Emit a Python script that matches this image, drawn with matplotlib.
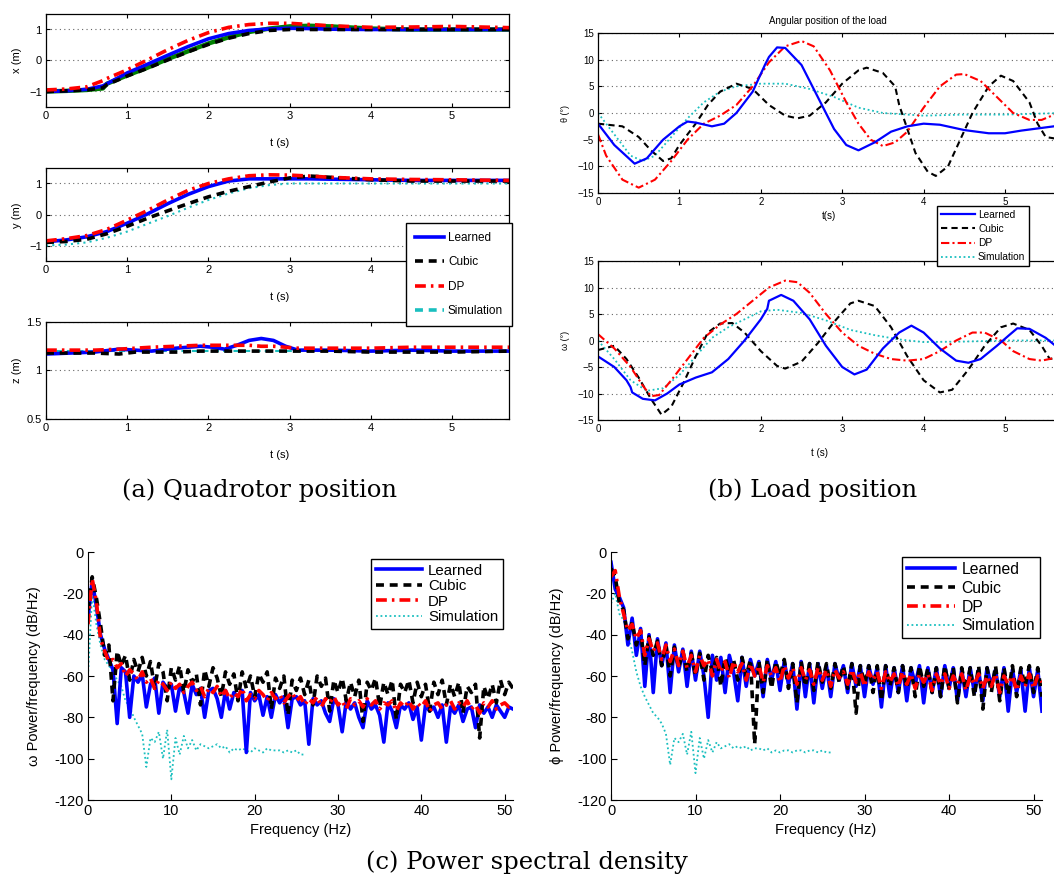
import numpy as np
import matplotlib.pyplot as plt

W, H = 1054, 880
plt.rcParams['font.family'] = ['Liberation Sans', 'DejaVu Sans']

# ---------------- quadrotor position (a)
X_T = [0, 0.25, 0.5, 0.7, 0.75, 1.0, 1.25, 1.5, 1.75, 2.0, 2.25, 2.5, 2.75, 3.0, 3.25, 3.5, 4.0, 4.5, 5.0, 5.7]
x_learned = [-1.0, -0.98, -0.93, -0.82, -0.75, -0.4, -0.12, 0.17, 0.45, 0.7, 0.87, 0.97, 1.02, 1.04, 1.03, 1.01, 1.0, 1.0, 1.0, 1.0]
x_dp = [-0.95, -0.92, -0.85, -0.65, -0.58, -0.3, 0.02, 0.35, 0.65, 0.9, 1.07, 1.16, 1.2, 1.2, 1.16, 1.12, 1.07, 1.08, 1.1, 1.06]
x_cubic = [-1.0, -0.98, -0.95, -0.88, -0.78, -0.5, -0.25, 0.02, 0.28, 0.52, 0.72, 0.87, 0.97, 1.0, 1.0, 1.0, 1.0, 1.0, 1.0, 1.0]
x_sim = [-1.0, -0.98, -0.95, -0.9, -0.75, -0.48, -0.23, 0.05, 0.3, 0.55, 0.75, 0.92, 1.03, 1.1, 1.12, 1.1, 1.03, 1.0, 1.0, 1.0]

Y_T = [0, 0.25, 0.5, 0.75, 1.0, 1.25, 1.5, 1.75, 2.0, 2.25, 2.5, 2.75, 3.0, 3.25, 3.5, 4.0, 4.5, 5.0, 5.7]
y_learned = [-0.88, -0.82, -0.72, -0.55, -0.28, 0.02, 0.35, 0.65, 0.9, 1.08, 1.15, 1.15, 1.15, 1.15, 1.14, 1.12, 1.1, 1.1, 1.1]
y_dp = [-0.85, -0.78, -0.68, -0.48, -0.18, 0.13, 0.47, 0.78, 1.0, 1.15, 1.25, 1.28, 1.27, 1.24, 1.2, 1.15, 1.13, 1.12, 1.1]
y_cubic = [-0.9, -0.87, -0.8, -0.62, -0.38, -0.12, 0.12, 0.35, 0.57, 0.75, 0.9, 1.05, 1.18, 1.24, 1.2, 1.12, 1.08, 1.08, 1.08]
y_sim = [-1.0, -0.97, -0.9, -0.75, -0.55, -0.3, -0.05, 0.22, 0.47, 0.68, 0.85, 0.95, 1.0, 1.0, 1.0, 1.0, 1.0, 1.0, 1.0]

Z_T = [0, 0.3, 0.6, 0.9, 1.1, 1.3, 1.6, 1.9, 2.05, 2.2, 2.35, 2.5, 2.65, 2.8, 2.95, 3.1, 3.5, 4.0, 4.5, 5.0, 5.7]
z_learned = [1.17, 1.18, 1.19, 1.22, 1.21, 1.2, 1.23, 1.25, 1.24, 1.22, 1.26, 1.31, 1.33, 1.31, 1.25, 1.21, 1.21, 1.2, 1.21, 1.2, 1.2]
z_dp = [1.21, 1.21, 1.21, 1.22, 1.23, 1.24, 1.25, 1.26, 1.26, 1.26, 1.26, 1.26, 1.25, 1.25, 1.24, 1.23, 1.23, 1.23, 1.24, 1.24, 1.24]
z_cubic = [1.18, 1.18, 1.18, 1.17, 1.19, 1.19, 1.19, 1.2, 1.2, 1.2, 1.2, 1.2, 1.2, 1.2, 1.2, 1.2, 1.2, 1.19, 1.19, 1.19, 1.2]
z_sim = [1.2] * len(Z_T)

# ---------------- load position (b)
th_learned_t = [0, 0.2, 0.45, 0.6, 0.8, 1.0, 1.1, 1.2, 1.4, 1.55, 1.7, 1.9, 2.05, 2.1, 2.2, 2.3, 2.5, 2.7, 2.9, 3.05, 3.2, 3.4, 3.6, 3.8, 4.0, 4.2, 4.5, 4.8, 5.0, 5.2, 5.7]
th_learned = [-2, -6, -9.5, -8.5, -5, -2.5, -1.6, -1.8, -2.5, -2, 0, 4, 9, 10.5, 12.3, 12.2, 9, 3, -3, -6, -7, -5.5, -3.5, -2.5, -2, -2.2, -3.2, -3.8, -3.8, -3.3, -2.3]
th_cubic_t = [0, 0.3, 0.5, 0.65, 0.8, 0.9, 1.0, 1.2, 1.35, 1.5, 1.7, 1.9, 2.1, 2.3, 2.45, 2.6, 2.8, 3.0, 3.2, 3.3, 3.5, 3.65, 3.7, 3.8, 3.9, 4.05, 4.15, 4.3, 4.45, 4.6, 4.8, 4.95, 5.1, 5.3, 5.4, 5.5, 5.7]
th_cubic = [-2, -2.5, -4.5, -7, -9, -8.5, -6, -2, 1.5, 4, 5.5, 4.5, 1.5, -0.5, -1, -0.5, 2, 5.5, 8, 8.5, 7.5, 5, 1.5, -3, -7.5, -11, -11.8, -10, -5, 0, 5, 7, 6, 2, -2, -4.5, -5]
th_dp_t = [0, 0.1, 0.3, 0.5, 0.7, 0.9, 1.1, 1.3, 1.5, 1.7, 1.9, 2.1, 2.3, 2.5, 2.65, 2.85, 3.05, 3.2, 3.35, 3.5, 3.65, 3.8, 4.0, 4.2, 4.4, 4.5, 4.7, 4.9, 5.1, 5.3, 5.45, 5.7]
th_dp = [-4, -8, -12.5, -14, -12.5, -9, -5, -2, -0.5, 1.5, 5, 9.5, 12.5, 13.5, 12.5, 8, 2, -2, -5, -6.2, -5.5, -3.5, 1, 5, 7.2, 7.3, 6, 3, 0, -1.3, -1.3, 0.3]
th_sim_t = [0, 0.2, 0.4, 0.55, 0.7, 0.9, 1.1, 1.3, 1.5, 1.7, 2.0, 2.3, 2.6, 2.9, 3.2, 3.5, 4.0, 4.5, 5.0, 5.7]
th_sim = [0, -4, -8, -9, -8, -4.5, -1, 2, 4, 5, 5.5, 5.5, 4.5, 3, 1, 0, -0.5, -0.3, -0.3, 0]

om_learned_t = [0, 0.2, 0.35, 0.4, 0.42, 0.55, 0.7, 0.85, 1.0, 1.2, 1.4, 1.6, 1.8, 2.0, 2.08, 2.1, 2.25, 2.4, 2.6, 2.8, 3.0, 3.15, 3.3, 3.5, 3.7, 3.85, 4.0, 4.2, 4.4, 4.55, 4.7, 4.9, 5.05, 5.15, 5.3, 5.5, 5.7]
om_learned = [-3, -5, -7.5, -8.8, -9.8, -11, -11.3, -10, -8.3, -7, -6, -3.5, 0, 4, 6, 7.5, 8.6, 7.5, 4, -1, -5, -6.4, -5.5, -1.5, 1.5, 2.8, 1.5, -1.5, -3.8, -4.2, -3.5, -1, 1, 2.3, 2.2, 0.5, -2]
om_cubic_t = [0, 0.2, 0.35, 0.5, 0.65, 0.78, 0.9, 1.05, 1.2, 1.35, 1.5, 1.65, 1.8, 2.0, 2.2, 2.3, 2.5, 2.7, 2.9, 3.1, 3.2, 3.4, 3.6, 3.8, 4.0, 4.2, 4.35, 4.55, 4.75, 4.95, 5.1, 5.3, 5.45, 5.55, 5.7]
om_cubic = [-1.8, -1, -3.5, -7, -11, -14, -12.5, -8, -3, 1.5, 3.2, 3.3, 1.5, -2, -4.8, -5.3, -4, -0.5, 3.5, 7, 7.5, 6.5, 2.5, -3, -7.5, -9.8, -9.3, -5.5, -1, 2.5, 3.2, 2, -1, -3.5, -3]
om_dp_t = [0, 0.2, 0.4, 0.55, 0.65, 0.75, 0.9, 1.1, 1.3, 1.5, 1.7, 1.9, 2.1, 2.3, 2.45, 2.6, 2.8, 3.0, 3.2, 3.4, 3.6, 3.8, 4.0, 4.2, 4.4, 4.6, 4.75, 4.95, 5.1, 5.3, 5.45, 5.7]
om_dp = [1.2, -1.5, -5, -8.5, -10.5, -10.3, -7.5, -3.5, 0.5, 3, 5, 7.5, 10, 11.3, 11, 9, 5, 1.5, -1, -2.5, -3.5, -3.8, -3.5, -2, 0, 1.5, 1.5, 0, -2, -3.5, -3.8, -3]
om_sim_t = [0, 0.2, 0.4, 0.6, 0.8, 1.0, 1.2, 1.4, 1.6, 1.8, 2.0, 2.2, 2.5, 2.8, 3.1, 3.4, 3.7, 4.0, 4.5, 5.0, 5.7]
om_sim = [0, -3.5, -7.5, -9.5, -9, -6.5, -3, 0.5, 2.5, 4, 5.5, 5.8, 5.2, 3.8, 2, 1, 0.2, -0.3, -0.2, 0, 0]

# ---------------- power spectral density (c), values every 0.5 Hz
FREQ = np.arange(103) * 0.5
SIM_FREQ = FREQ[:53]

psd_w_learned = [-32, -14, -26, -40, -47, -52, -57, -83, -56, -58, -80, -60, -63, -59, -75, -64, -61, -78, -63, -66,
                 -64, -77, -65, -68, -78, -64, -69, -66, -80, -67, -66, -71, -80, -67, -76, -68, -70, -67, -97, -68,
                 -72, -69, -79, -70, -80, -69, -73, -70, -85, -71, -70, -74, -72, -93, -71, -74, -72, -78, -82, -71,
                 -74, -87, -72, -76, -73, -80, -85, -72, -76, -74, -79, -92, -73, -77, -85, -74, -76, -73, -81, -75,
                 -91, -74, -77, -75, -80, -74, -92, -75, -78, -74, -82, -76, -75, -85, -74, -78, -75, -80, -74, -77,
                 -80, -75, -76]
psd_w_cubic = [-28, -12, -22, -35, -50, -45, -72, -48, -55, -50, -62, -52, -58, -51, -60, -53, -66, -54, -58, -72,
               -56, -62, -55, -68, -57, -63, -59, -74, -57, -65, -56, -61, -70, -58, -64, -59, -72, -58, -66, -60,
               -70, -59, -63, -58, -76, -61, -66, -60, -79, -62, -67, -61, -69, -62, -74, -60, -65, -61, -77, -62,
               -68, -61, -72, -63, -70, -62, -82, -63, -67, -61, -75, -63, -69, -62, -81, -64, -68, -62, -73, -63,
               -70, -64, -77, -63, -69, -62, -74, -64, -70, -63, -78, -65, -68, -64, -90, -65, -71, -64, -73, -62,
               -69, -63, -66]
psd_w_dp = [-35, -13, -24, -42, -48, -53, -52, -56, -54, -60, -57, -59, -62, -58, -63, -61, -66, -62, -64, -67,
            -63, -66, -64, -68, -65, -63, -67, -65, -70, -66, -68, -65, -70, -67, -71, -68, -70, -66, -72, -69,
            -71, -67, -69, -72, -68, -71, -69, -73, -70, -68, -72, -70, -74, -71, -73, -70, -75, -71, -73, -70,
            -74, -72, -76, -71, -74, -72, -75, -71, -74, -72, -76, -73, -74, -72, -77, -73, -75, -72, -76, -73,
            -75, -72, -77, -74, -73, -76, -74, -72, -76, -73, -75, -72, -76, -74, -78, -73, -75, -72, -76, -74,
            -73, -75, -74]
psd_w_sim = [-60, -20, -35, -45, -52, -55, -58, -62, -65, -72, -75, -80, -84, -88, -104, -90, -92, -87, -100, -86,
             -110, -90, -98, -89, -95, -91, -96, -93, -94, -95, -94, -93, -95, -94, -97, -95, -96, -95, -96, -97,
             -95, -96, -97, -95, -96, -96, -96, -97, -96, -97, -96, -98, -98]

psd_p_learned = [-5, -18, -22, -27, -45, -32, -50, -37, -65, -40, -68, -42, -55, -44, -68, -45, -58, -47, -65, -48,
                 -62, -48, -60, -80, -50, -62, -51, -68, -50, -58, -72, -51, -65, -52, -60, -53, -70, -52, -62, -53,
                 -67, -53, -64, -54, -76, -53, -70, -54, -73, -54, -66, -55, -70, -54, -62, -55, -68, -54, -65, -55,
                 -70, -55, -64, -56, -75, -55, -70, -56, -68, -55, -72, -56, -64, -55, -73, -56, -68, -56, -70, -55,
                 -66, -56, -72, -57, -70, -56, -68, -57, -72, -56, -65, -57, -70, -56, -77, -57, -68, -57, -77, -56,
                 -70, -57, -77]
psd_p_cubic = [-8, -12, -25, -28, -42, -34, -45, -38, -55, -41, -50, -43, -55, -45, -60, -46, -56, -48, -58, -49,
               -60, -49, -62, -50, -58, -51, -65, -51, -58, -52, -62, -51, -60, -52, -93, -53, -68, -52, -66, -53,
               -60, -52, -66, -54, -73, -53, -65, -54, -67, -53, -63, -54, -66, -54, -63, -55, -66, -54, -78, -55,
               -64, -55, -68, -55, -72, -55, -65, -56, -68, -55, -66, -56, -70, -55, -65, -56, -68, -56, -70, -55,
               -66, -56, -73, -56, -67, -56, -70, -55, -76, -56, -68, -55, -72, -56, -69, -55, -70, -56, -65, -55,
               -68, -56, -70]
psd_p_dp = [-12, -9, -22, -30, -38, -35, -42, -38, -50, -42, -48, -44, -52, -45, -53, -47, -55, -48, -56, -50,
            -58, -50, -55, -52, -60, -52, -58, -53, -61, -53, -58, -54, -62, -54, -60, -55, -63, -55, -60, -56,
            -63, -55, -61, -56, -64, -56, -62, -57, -64, -56, -62, -57, -65, -57, -61, -58, -64, -57, -63, -58,
            -65, -58, -62, -58, -66, -58, -63, -59, -65, -58, -64, -59, -66, -59, -63, -59, -67, -59, -64, -59,
            -66, -60, -64, -59, -67, -60, -64, -59, -66, -60, -65, -59, -68, -60, -64, -60, -67, -60, -65, -59,
            -66, -60, -63]
psd_p_sim = [-25, -20, -30, -33, -40, -48, -58, -65, -70, -74, -78, -80, -83, -88, -103, -90, -92, -88, -98, -87,
             -107, -90, -100, -91, -97, -92, -95, -94, -93, -95, -94, -95, -94, -96, -95, -95, -96, -95, -97, -96,
             -97, -96, -96, -97, -96, -96, -97, -96, -96, -97, -96, -97, -97]

LABELS = ["Learned", "Cubic", "DP", "Simulation"]
BLUE, RED, CYAN, GREEN = (0, 0, 1), (1, 0, 0), (0.1, 0.75, 0.75), (0, 0.5, 0)


def box(l, t, r, b):
    return [l / W, 1 - b / H, (r - l) / W, (b - t) / H]


fig = plt.figure(figsize=(W / 100, H / 100), dpi=100)


def ftext(x, y, s, **kw):
    fig.text(x / W, 1 - y / H, s, ha="center", va="center", **kw)


def matlab_axes(rect, ylim, yticks, fs, xmax=5.7):
    ax = fig.add_axes(box(*rect))
    ax.set_xlim(0, xmax)
    ax.set_ylim(*ylim)
    ax.set_yticks(yticks)
    ax.set_xticks(range(6))
    ax.yaxis.set_major_formatter(plt.FuncFormatter(lambda v, p: ("%g" % v).replace("-", "\u2212")))
    ax.tick_params(direction="in", length=3, top=True, right=True, labelsize=fs, pad=3)
    ax.yaxis.grid(True, linestyle=(0, (1, 3)), color="0.4", lw=0.8)
    for s in ax.spines.values():
        s.set_linewidth(0.9)
    return ax


# --------- (a) quadrotor position
thick = 2.6
dash = (2.2, 1.6)
dashdot = (3.0, 1.4, 0.7, 1.4)
ax_x = matlab_axes((46, 14, 509, 107), (-1.5, 1.5), [-1, 0, 1], 8)
ax_x.plot(X_T, x_sim, color=GREEN, lw=thick + 0.6)
ax_x.plot(X_T, x_learned, color=BLUE, lw=thick)
ax_x.plot(X_T, x_cubic, color="k", lw=thick, dashes=dash)
ax_x.plot(X_T, x_dp, color=RED, lw=thick, dashes=dashdot)

ax_y = matlab_axes((46, 168, 509, 261), (-1.5, 1.5), [-1, 0, 1], 8)
ax_y.plot(Y_T, y_sim, color=CYAN, lw=1.5, dashes=(1, 2))
ax_y.plot(Y_T, y_learned, color=BLUE, lw=thick)
ax_y.plot(Y_T, y_cubic, color="k", lw=thick, dashes=dash)
ax_y.plot(Y_T, y_dp, color=RED, lw=thick, dashes=dashdot)

ax_z = matlab_axes((46, 322, 509, 419), (0.5, 1.5), [0.5, 1, 1.5], 8)
ax_z.plot(Z_T, z_sim, color=CYAN, lw=1.5, dashes=(3, 2))
ax_z.plot(Z_T, z_learned, color=BLUE, lw=thick)
ax_z.plot(Z_T, z_cubic, color="k", lw=thick, dashes=dash)
ax_z.plot(Z_T, z_dp, color=RED, lw=thick, dashes=dashdot)

for yy, lab in [(60, "x (m)"), (215, "y (m)"), (370, "z (m)")]:
    ftext(17, yy, lab, rotation=90, fontsize=8)
for yy in [143, 297, 455]:
    ftext(280, yy, "t (s)", fontsize=8)

h_a = [plt.Line2D([], [], color=BLUE, lw=thick),
       plt.Line2D([], [], color="k", lw=thick, dashes=dash),
       plt.Line2D([], [], color=RED, lw=thick, dashes=dashdot),
       plt.Line2D([], [], color=CYAN, lw=thick, dashes=dash)]
leg = fig.legend(h_a, LABELS, loc="upper left", bbox_to_anchor=(406 / W, 1 - 223 / H),
                 borderaxespad=0, fontsize=8.5, handlelength=2.5, labelspacing=1.05,
                 handletextpad=0.3, borderpad=0.75, fancybox=False, framealpha=1,
                 edgecolor="k")
leg.get_frame().set_linewidth(1.0)

# --------- (b) load position
ax_th = matlab_axes((598, 33, 1062, 193), (-15, 15), [-15, -10, -5, 0, 5, 10, 15], 7)
ax_th.plot(th_sim_t, th_sim, color=CYAN, lw=1.3, dashes=(1, 1.5))
ax_th.plot(th_cubic_t, th_cubic, color="k", lw=1.5, dashes=(3, 2))
ax_th.plot(th_dp_t, th_dp, color=RED, lw=1.5, dashes=(4, 1.5, 1, 1.5))
ax_th.plot(th_learned_t, th_learned, color=BLUE, lw=1.6)
ftext(828, 21, "Angular position of the load", fontsize=7)
ftext(566, 113, "θ (°)", rotation=90, fontsize=6.5)
ftext(829, 216, "t(s)", fontsize=7)

ax_om = matlab_axes((598, 261, 1062, 420), (-15, 15), [-15, -10, -5, 0, 5, 10, 15], 7)
ax_om.plot(om_sim_t, om_sim, color=CYAN, lw=1.3, dashes=(1, 1.5))
ax_om.plot(om_cubic_t, om_cubic, color="k", lw=1.5, dashes=(3, 2))
ax_om.plot(om_dp_t, om_dp, color=RED, lw=1.5, dashes=(4, 1.5, 1, 1.5))
ax_om.plot(om_learned_t, om_learned, color=BLUE, lw=1.6)
ftext(566, 340, "ω (°)", rotation=90, fontsize=6.5)
ftext(819, 453, "t (s)", fontsize=7)

h_b = [plt.Line2D([], [], color=BLUE, lw=1.6),
       plt.Line2D([], [], color="k", lw=1.5, dashes=(3, 2)),
       plt.Line2D([], [], color=RED, lw=1.5, dashes=(4, 1.5, 1, 1.5)),
       plt.Line2D([], [], color=CYAN, lw=1.3, dashes=(1, 1.5))]
leg = fig.legend(h_b, LABELS, loc="upper left", bbox_to_anchor=(937 / W, 1 - 206 / H),
                 borderaxespad=0, fontsize=7.3, handlelength=3.4, labelspacing=0.42,
                 handletextpad=0.3, borderpad=0.35, fancybox=False, framealpha=1,
                 edgecolor="k")
leg.get_frame().set_linewidth(1.0)

# --------- (c) power spectral density
def psd_axes(rect):
    ax = fig.add_axes(box(*rect))
    ax.set_xlim(0, 51)
    ax.set_ylim(-120, 0)
    ax.set_xticks([0, 10, 20, 30, 40, 50])
    ax.set_yticks([-120, -100, -80, -60, -40, -20, 0])
    ax.yaxis.set_major_formatter(plt.FuncFormatter(lambda v, p: "%d" % v))
    ax.spines["top"].set_visible(False)
    ax.spines["right"].set_visible(False)
    ax.tick_params(direction="in", length=4, labelsize=10.5, pad=3)
    return ax


def psd_draw(ax, learned, cubic, dp, sim):
    ax.plot(SIM_FREQ, sim, color=CYAN, lw=1.3, dashes=(1, 1.5))
    ax.plot(FREQ, learned, color=BLUE, lw=2.6)
    ax.plot(FREQ, cubic, color="k", lw=2.6, dashes=(2.2, 1.6))
    ax.plot(FREQ, dp, color=RED, lw=2.6, dashes=(3, 1.4, 0.7, 1.4))


ax_p1 = psd_axes((88, 552, 513, 800))
psd_draw(ax_p1, psd_w_learned, psd_w_cubic, psd_w_dp, psd_w_sim)
ax_p2 = psd_axes((611, 552, 1042, 800))
psd_draw(ax_p2, psd_p_learned, psd_p_cubic, psd_p_dp, psd_p_sim)

ftext(34, 676, "ω Power/frequency (dB/Hz)", rotation=90, fontsize=10.5)
ftext(557, 676, "ϕ Power/frequency (dB/Hz)", rotation=90, fontsize=10.5)
ftext(301, 830, "Frequency (Hz)", fontsize=10.5)
ftext(826, 830, "Frequency (Hz)", fontsize=10.5)

h_c = [plt.Line2D([], [], color=BLUE, lw=2.6),
       plt.Line2D([], [], color="k", lw=2.6, dashes=(2.2, 1.6)),
       plt.Line2D([], [], color=RED, lw=2.6, dashes=(3, 1.4, 0.7, 1.4)),
       plt.Line2D([], [], color=CYAN, lw=1.3, dashes=(1, 1.5))]
for x0, y0, fs, ls in [(371, 559, 10.8, 0.1), (902, 557, 11.3, 0.25)]:
    leg = fig.legend(h_c, LABELS, loc="upper left", bbox_to_anchor=(x0 / W, 1 - y0 / H),
                     borderaxespad=0, fontsize=fs, handlelength=3.1, labelspacing=ls,
                     handletextpad=0.4, borderpad=0.3, fancybox=False, framealpha=1,
                     edgecolor="k")
    leg.get_frame().set_linewidth(1.0)

# --------- captions
cap = dict(fontsize=17.5, family="DejaVu Serif")
ftext(259, 490, "(a) Quadrotor position", **cap)
ftext(813, 490, "(b) Load position", **cap)
ftext(527, 862, "(c) Power spectral density", **cap)

fig.savefig("out.png", dpi=100)
